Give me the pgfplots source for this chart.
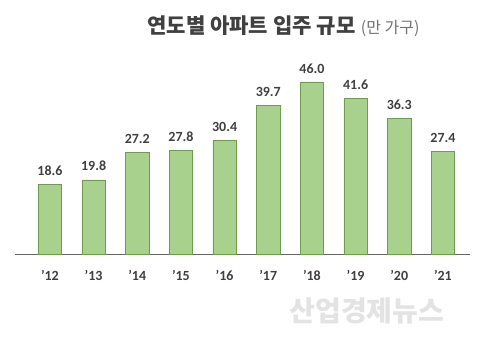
\documentclass[border=0pt]{standalone}
\usepackage{pgfplots}
\pgfplotsset{compat=1.18}
\usepackage{fontspec}
\setmainfont{Carlito}
\newfontfamily\kr{Noto Sans CJK KR}
\definecolor{barfill}{HTML}{A9D18E}
\definecolor{barline}{HTML}{6E9B4E}
\definecolor{txt}{HTML}{404040}
\begin{document}
\begin{tikzpicture}[x=0.75pt,y=0.75pt]
\path[fill=white] (0,0) rectangle (480,363);
\begin{axis}[
  at={(11.25pt,81.75pt)}, anchor=south west,
  scale only axis, width=341.25pt, height=140.25pt,
  xmin=-0.8, xmax=9.62, ymin=0, ymax=50,
  axis x line=bottom, hide y axis,
  x axis line style={-, draw=gray!80!black, line width=0.6pt},
  xtick={0,...,9},
  xticklabels={’12,’13,’14,’15,’16,’17,’18,’19,’20,’21},
  major tick length=0pt,
  xticklabel style={font=\fontsize{10.5}{12}\selectfont\bfseries, text=txt, yshift=-9pt},
  ybar, bar width=17.5pt,
  clip=false,
  nodes near coords,
  every node near coord/.append style={font=\fontsize{10.5}{12}\selectfont\bfseries, text=txt, yshift=3pt},
  /pgf/number format/fixed, /pgf/number format/fixed zerofill, /pgf/number format/precision=1,
  /pgf/number format/assume math mode=true,
]
\addplot[fill=barfill, draw=barline, line width=0.6pt] coordinates {
(0,18.6) (1,19.8) (2,27.2) (3,27.8) (4,30.4) (5,39.7) (6,46.0) (7,41.6) (8,36.3) (9,27.4)};
\end{axis}
\node[anchor=base west, text=txt, inner sep=0] at (147,329) {\kr\fontsize{15.8}{17}\selectfont\bfseries 연도별 아파트 입주 규모\hspace{4pt}{\mdseries\fontsize{12}{14}\selectfont\color{gray!90!black}(만 가구)}};
\node[anchor=center, text=gray!22, inner sep=0] at (367,52) {\kr\fontsize{21}{24}\selectfont\bfseries 산업경제뉴스};
\end{tikzpicture}
\end{document}
